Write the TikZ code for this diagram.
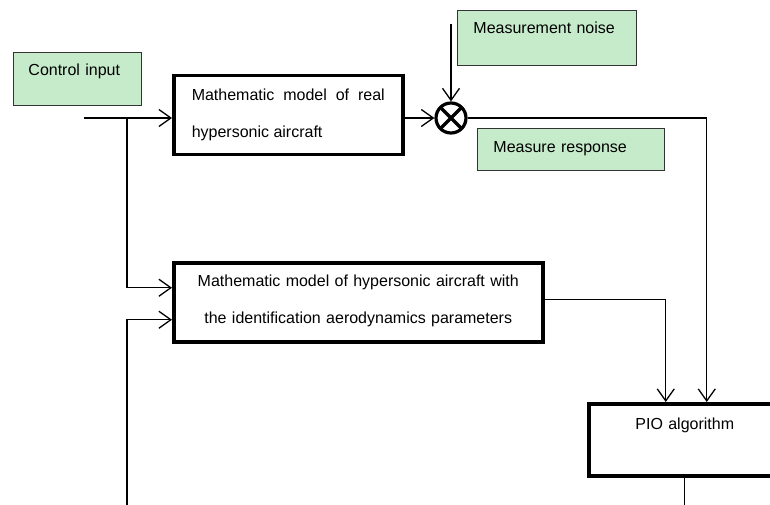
\documentclass[tikz,border=0pt]{standalone}
\usepackage{fontspec}
\setmainfont{Liberation Sans}
\usetikzlibrary{arrows.meta,positioning}
\definecolor{notegreen}{RGB}{198,235,203}
\tikzset{
	>={Straight Barb[length=12pt,width=17pt]}, % open arrow heads
	every node/.style={font=\fontsize{16}{37}\selectfont},
	link/.style={line width=1.3pt},
	note/.style={draw=black!80, line width=0.9pt, fill=notegreen, anchor=north west, inner ysep=0pt, inner xsep=16pt, align=left},
	model/.style={draw, line width=3.5pt, anchor=north west, inner ysep=0pt},
	sumnode/.style={circle, draw, line width=3.2pt, minimum size=30pt, inner sep=0pt,
		path picture={\draw[line width=3.2pt] (path picture bounding box.north west) -- (path picture bounding box.south east)
			(path picture bounding box.north east) -- (path picture bounding box.south west);}},
}

\begin{document}
\begin{tikzpicture}[x=1pt, y=-1pt]
        \useasboundingbox (0,0) rectangle (770,505);
        \clip (0,0) rectangle (770,505);

        \node[note, inner xsep=15pt, text width=98pt, text height=22.7pt, text depth=30.3pt] (ctrl) at (13,52) {Control input};
        \node[note, text width=147pt, text height=22.7pt, text depth=32.3pt] (noise) at (457,10) {Measurement noise};
        \node[note, text width=155pt, text height=23.7pt, text depth=18.3pt] (resp) at (477,128) {Measure response};

        \node[model, align=justify, inner xsep=18pt, text width=193pt, text height=24.7pt, text depth=54.3pt] (real) at (172,74) {Mathematic model of real hypersonic aircraft};
        \node[model, align=center, inner xsep=10pt, text width=349pt, text height=23.7pt, text depth=55.3pt] (ident) at (172,261) {Mathematic model of hypersonic aircraft with\\the identification aerodynamics parameters};
        \node[model, align=center, inner xsep=10pt, text width=172pt, text height=25.7pt, text depth=46.3pt] (pio) at (587,402) {PIO algorithm};

        \node[sumnode] (sum) at (451,118) {};

        \coordinate (in) at (84,118);
        \coordinate (split) at (127,118);
        \coordinate (fb) at (127,505);
        \coordinate (nz) at (451,24);

        \draw[link, ->] (in) -- (in -| real.west);
        \draw[link, ->] (split) |- ([yshift=14.5pt]ident.west);
        \draw[link, ->] (fb) |- ([yshift=-17.5pt]ident.west);
        \draw[link, ->] (real.east |- sum) -- (sum.west);
        \draw[link, ->] (nz) -- (sum.north);
        \draw[link, ->] (sum.east) -| ([xshift=22pt]pio.north);
        \draw[link, ->] ([yshift=2.5pt]ident.east) -| ([xshift=-19pt]pio.north);
        \draw[link] (pio.south) -- (pio.south |- fb);
\end{tikzpicture}
\end{document}
